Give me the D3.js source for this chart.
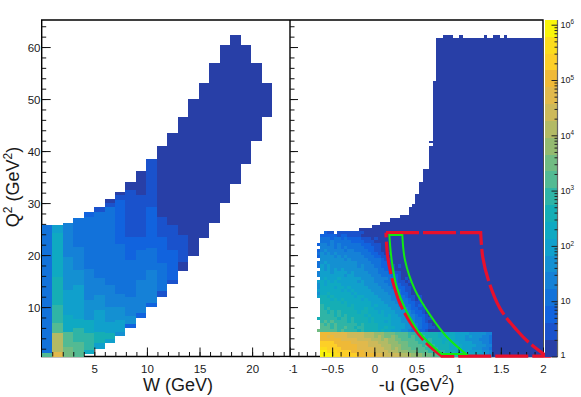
<!DOCTYPE html>
<html><head><meta charset="utf-8">
<script src="https://cdn.jsdelivr.net/npm/d3@7"></script>
<style>html,body{margin:0;padding:0;background:#fff}svg{display:block}text{font-family:"Liberation Sans",Arial,sans-serif;fill:#1a1a1a}</style>
</head><body><svg id="c" width="581" height="397"></svg>
<script>
// colour bands, lowest to highest (20 log-spaced levels of the z axis)
const bandColors = ["#283fa7","#1a52cc","#1163de","#1272da","#1581d7","#1490d2","#10a0cc","#0fa9c2","#15aeb5","#2fb4a6",
  "#53ba93","#71bb82","#94ba70","#b3ba65","#cdb95a","#e1b94c","#efb937","#fdcf27","#fcdc1c","#f9f50a"];

// Left panel: W bins (1 GeV wide); Q2 edges and colour level per column, bottom to top
const wBinStart = d3.range(22).map(i => i * 0.995);
const leftEdges = [
 [0.5,1.1,15.2,25.8],
 [0.5,1.4,5,6.9,10.4,15.8,24.2,25.8],
 [0.5,2.4,5.3,8.5,13.3,19.7,26.2],
 [0.5,3.3,5.9,7.8,14.2,17.1,21.6,27.2],
 [1,1.7,5,7.5,11.3,17.4,27.4,28.2],
 [2,3,5.3,9.4,12.3,15.5,22.2,28.3,29.2],
 [3,3.8,5.1,7.2,10.1,14.2,19.4,29.3,30,30.7],
 [4.4,5.3,7.5,10.1,12.6,16.8,22.2,30.6,31.6,32.2],
 [5.9,6.7,8.2,12,15.2,19,23.5,32.6,34.1],
 [7.9,8.8,15.2,21,23.5,31.5,36.1],
 [10,10.7,17.1,21.3,29.3,38.5],
 [11.9,13,18.4,23.5,27.4,41],
 [14.4,15.3,21,25.8,43.5],
 [16.9,18.7,23.8,46.5],
 [19.8,50],[23.2,53],[26.2,56.9],[30,60.3],[33.6,62.3],[37.6,60.3],[42,56.9],[46.5,53]
];
const leftLevels = [
 [10,3,3],[15,13,10,9,8,7,6],[11,10,7,6,5,4],[10,9,7,6,5,4,3],[7,9,7,5,4,3,2],[6,8,6,5,4,3,3,1],
 [6,8,6,5,4,3,3,1,0],[5,6,5,4,3,3,2,1,0],[2,5,4,3,3,2,1,0],[2,4,3,2,1,0],[2,4,3,2,1,0],[1,3,2,1,0],[1,2,1,0],[0,1,0],
 [0],[0],[0],[0],[0],[0],[0],[0]
];

// Right panel: fine grid, rows bottom to top. Each char = colour level (base 36), space = empty.
const rightRows = [
 " jjjjiihhhhhgggggfffeeeeedddcccbbbaaaa99998887776654",
 " jjiiihhhhggggfffeeeedddcccbbbaaa9999988877776666554",
 " iihhhhgggggfffffeeeddcdcbbbaaaa99998887777666555443",
 " hhhhhggggggfffeeeedddcccbbaaaa9a9988887777666655544",
 " hhhhgggggfffffeeedddcccbbbaaa9999888787776666555443",
 " ggggggfffffeeeedddcdccbbaaaa99989888777766655554443",
 " ggfgffffeeeeedddcdcbbcbaaa9a99988887877766656555443",
 " gggfffffeeeeedddcccbbbaaaa9999888887777766665555544",
 "baaaaa9a9999898888787766655433221",
 " aaa9a99a99899888877877666554432211",
 " a9a9a9999998988887777666655443221",
 " 9a9a9999898888787776766655443321",
 "8999998998988887877777666554433211",
 " 99998989888887877776766555443221",
 " 9989898888878877767666555443221",
 " 9898888888777877666665554432211",
 " 9888888878777776766655544332121",
 " 888888787777777666655544332211",
 " 888787877777676666555444332101",
 "6887877777767766665555443321101",
 "5778777777676666655554443221",
 "6777777676766666555544433211",
 "5777767767666665555444332211",
 "5767777666666655554443322110",
 "6767676666665655544433221101",
 " 67666766666655554444332101",
 "4666666656655555444333221",
 "4666566665655554443332211",
 " 6565656555555444433221",
 "3656555555554544433221101",
 "3565555555554444333221",
 " 5555555454444433332110",
 "2555545454444433322110",
 "3545454444444333221101",
 "2454444434433332211",
 " 44443434333332221100",
 "2443434333333222111",
 " 3334333332222111",
 " 33323323222211101",
 " 2222212211110",
 "  211 1111111100"
];
const uBinStart = -0.68, uBinWidth = 0.04, rowQ0 = 0.5, rowQHeight = 0.59;

// Right panel: upper navy region, stairs above the grid (Q2 top of step, u left of step)
const stairQ = [25.15,25.78,26.42,27.08,27.7,29.3,29.83,31.75,34.1,36.56,41.04,41.5,42,53.4,61.8];
const stairU = [-0.186,-0.027,0.071,0.19,0.31,0.407,0.447,0.486,0.534,0.573,0.652,0.692,0.652,0.692,0.732];
const bumpLowU = [0.81,1.008,1.297,1.403,1.534];
const bumpHighU = [0.93,1.048,1.337,1.495,1.574];
const bumpQ = 62.3;

// Cut contours
const redTop = [[0.138,24.3],[1.261,24.3]];
const redRight = [[1.261,24.3],[1.285,19.7],[1.352,15.2],[1.49,9.75],[1.688,5.6],[1.846,3],[2.043,0.58]];
const redBottom = [[2.043,0.58],[0.798,0.58]];
const redLeft = [[0.798,0.58],[0.621,3],[0.462,6.2],[0.304,10.7],[0.206,15.8],[0.158,19.7],[0.138,24.3]];
const greenTop = [[0.178,23.85],[0.332,23.85]];
const greenRight = [[0.332,23.85],[0.364,19],[0.482,13.3],[0.66,8.5],[0.858,4.3],[1.087,0.97]];
const greenBottom = [[1.087,0.97],[0.798,0.97]];
const greenLeft = [[0.798,0.97],[0.542,4.94],[0.364,9.75],[0.265,13.9],[0.206,19],[0.178,23.85]];

// Axis ticks
const wMajor = [5,10,15,20], wMinor = d3.range(1,24);
const qMajor = [10,20,30,40,50,60], qMinor = d3.range(2,66,2);
const uMajor = [-1,-0.5,0,0.5,1,1.5,2], uMinor = d3.range(-10,21).map(d => d/10);
const uLabels = ["-1","\u22120.5","0","0.5","1","1.5","2"];
const zMajor = [1,10,100,1000,10000,100000,1000000];
const zExp = ["","","2","3","4","5","6"];

const svg = d3.select("#c");
const plotTop = 20, plotBottom = 356.5, lx0 = 41.7, mid = 290, rx1 = 543, barX0 = 545, barX1 = 557.5;
const xW = d3.scaleLinear().domain([0,23.6]).range([lx0,mid]);
const xU = d3.scaleLinear().domain([-1,2]).range([mid,rx1]);
const yQ = d3.scaleLinear().domain([0.5,65.2]).range([plotBottom,plotTop]);
const color = d3.scaleQuantize().domain([0,20]).range(bandColors);

// frame
svg.append("path").attr("d",`M${lx0},${plotBottom}V${plotTop}H${rx1}V${plotBottom}ZM${mid},${plotTop}V${plotBottom}`)
  .attr("fill","none").attr("stroke","#000").attr("stroke-width",1.4);

// left cells
const gL = svg.append("g").attr("shape-rendering","crispEdges");
leftEdges.forEach((edges,i)=>{
  leftLevels[i].forEach((lv,j)=>{
    gL.append("rect").attr("x",xW(wBinStart[i])).attr("width",xW(0.995)-xW(0))
      .attr("y",yQ(edges[j+1])).attr("height",yQ(edges[j])-yQ(edges[j+1])).attr("fill",color(lv));
  });
});

// right navy stairs and fine grid
const gR = svg.append("g").attr("shape-rendering","crispEdges");
const rowTop = r => rowQ0 + (r+1)*rowQHeight, rowBot = r => rowQ0 + r*rowQHeight;
let lowQ = rowTop(rightRows.length-1);
stairQ.forEach((q,i)=>{
  gR.append("rect").attr("x",xU(stairU[i])).attr("width",xU(2)-xU(stairU[i]))
    .attr("y",yQ(q)).attr("height",yQ(lowQ)-yQ(q)).attr("fill",color(0));
  lowQ = q;
});
bumpLowU.forEach((u,i)=>{
  gR.append("rect").attr("x",xU(u)).attr("width",xU(bumpHighU[i])-xU(u))
    .attr("y",yQ(bumpQ)).attr("height",yQ(61.8)-yQ(bumpQ)).attr("fill",color(0));
});
rightRows.forEach((row,r)=>{
  const uEnd = uBinStart + row.length*uBinWidth;
  gR.append("rect").attr("x",xU(uEnd)).attr("width",xU(2)-xU(uEnd))
    .attr("y",yQ(rowTop(r))).attr("height",yQ(rowBot(r))-yQ(rowTop(r))).attr("fill",color(0));
  row.split("").forEach((c,k)=>{
    if(c===" ") return;
    const u = uBinStart + k*uBinWidth;
    gR.append("rect").attr("x",xU(u)).attr("width",xU(u+uBinWidth)-xU(u))
      .attr("y",yQ(rowTop(r))).attr("height",yQ(rowBot(r))-yQ(rowTop(r))).attr("fill",color(parseInt(c,36)));
  });
});

// axes helper
function ticks(axis, vals, len, g){
  const a = g.append("g").call(axis.tickValues(vals).tickSize(-len).tickFormat(""));
  a.select(".domain").remove();
  a.selectAll("line").attr("stroke","#111").attr("stroke-width",1);
  return a;
}
const gA = svg.append("g");
// left x
const ax1 = gA.append("g").attr("transform",`translate(0,${plotBottom})`);
ticks(d3.axisBottom(xW),wMinor,4.5,ax1);
{ const a = ax1.append("g").call(d3.axisBottom(xW).tickValues(wMajor).tickSize(-9).tickFormat(d3.format("d")));
  a.select(".domain").remove(); a.selectAll("line").attr("stroke","#111");
  a.selectAll("text").attr("font-size",11.5).attr("dy",null).attr("y",16.2).style("text-anchor","middle"); }
// right x
const ax2 = gA.append("g").attr("transform",`translate(0,${plotBottom})`);
ticks(d3.axisBottom(xU),uMinor,4.5,ax2);
{ const a = ax2.append("g").call(d3.axisBottom(xU).tickValues(uMajor).tickSize(-9).tickFormat((d,i)=>uLabels[i]));
  a.select(".domain").remove(); a.selectAll("line").attr("stroke","#111");
  a.selectAll("text").attr("font-size",11.5).attr("dy",null).attr("y",16.2).style("text-anchor","middle");
  // the first label is cut by the neighbouring pad
  a.selectAll(".tick").filter(d=>d===-1).select("text").attr("x",2);
}
// left y
const ay1 = gA.append("g").attr("transform",`translate(${lx0},0)`);
ticks(d3.axisLeft(yQ),qMinor,4.5,ay1);
{ const a = ay1.append("g").call(d3.axisLeft(yQ).tickValues(qMajor).tickSize(-9).tickPadding(1.2).tickFormat(d3.format("d")));
  a.select(".domain").remove(); a.selectAll("line").attr("stroke","#111");
  a.selectAll("text").attr("font-size",11.5).attr("dy","0.36em"); }
// right y (no labels)
const ay2 = gA.append("g").attr("transform",`translate(${mid},0)`);
ticks(d3.axisRight(yQ),qMinor,-4.5,ay2);
ticks(d3.axisRight(yQ),qMajor,-8,ay2);
// cover the part of the "-1" label that lies in the left pad
gA.append("rect").attr("x",280).attr("y",plotBottom+1).attr("width",9.6).attr("height",22).attr("fill","#fff");

// contours
const lineC = d3.line().x(d=>xU(d[0])).y(d=>yQ(d[1])).curve(d3.curveCatmullRom);
function contour(parts){ return parts.map(p=>lineC(p)).join("").replace(/(?!^)M[^CLZ]*/g,m=>"L"+m.slice(1)); }
svg.append("path").attr("d",contour([redTop,redRight,redBottom,redLeft])).attr("fill","none")
  .attr("stroke","#e8102c").attr("stroke-width",3.2).attr("stroke-dasharray","33,4");
svg.append("path").attr("d",contour([greenTop,greenRight,greenBottom,greenLeft])+"Z").attr("fill","none")
  .attr("stroke","#12ea12").attr("stroke-width",2);

// colour bar
const yZ = d3.scaleLog().domain([1,Math.pow(10,6.085)]).range([plotBottom,plotTop]);
const yBand = d3.scaleLinear().domain([0,20]).range([plotBottom,plotTop]);
const gB = svg.append("g").attr("shape-rendering","crispEdges");
bandColors.forEach((c,i)=>{
  gB.append("rect").attr("x",barX0).attr("width",barX1-barX0).attr("y",yBand(i+1)).attr("height",yBand(i)-yBand(i+1)).attr("fill",c);
});
const zMinor = d3.range(0,6).flatMap(e=>d3.range(2,10).map(m=>m*Math.pow(10,e)));
const az = svg.append("g").attr("transform",`translate(${barX1},0)`);
az.append("line").attr("y1",plotTop).attr("y2",plotBottom).attr("stroke","#666").attr("stroke-width",1.2);
{ const a = az.append("g").call(d3.axisRight(yZ).tickValues(zMinor).tickSize(-3).tickFormat(""));
  a.select(".domain").remove(); a.selectAll("line").attr("stroke","#222"); }
{ const a = az.append("g").call(d3.axisRight(yZ).tickValues(zMajor).tickSize(-6).tickFormat(""));
  a.select(".domain").remove(); a.selectAll("line").attr("stroke","#222"); }
zMajor.forEach((v,i)=>{
  const t = svg.append("text").attr("x",560.5).attr("y",yZ(v)+ (i===0?1:3.2)).attr("font-size",9);
  t.append("tspan").text(i===0?"1":"10");
  if(zExp[i]) t.append("tspan").attr("dy",-3.5).attr("font-size",6.3).text(zExp[i]);
});

// titles
function title(x,y,rot,parts){
  const t = svg.append("text").attr("transform",`translate(${x},${y}) rotate(${rot})`).attr("text-anchor","middle").attr("font-size",18);
  let up=false;
  parts.forEach(([s,isSup])=>{
    const ts = t.append("tspan").text(s);
    if(isSup){ ts.attr("dy",-6.5).attr("font-size",12); up=true; }
    else if(up){ ts.attr("dy",6.5); up=false; }
  });
}
title(178,390.7,0,[["W (GeV)"]]);
title(416.7,390.7,0,[["-u (GeV"],["2",true],[")"]]);
title(18.5,187,-90,[["Q"],["2",true],[" (GeV"],["2",true],[")"]]);
</script></body></html>
